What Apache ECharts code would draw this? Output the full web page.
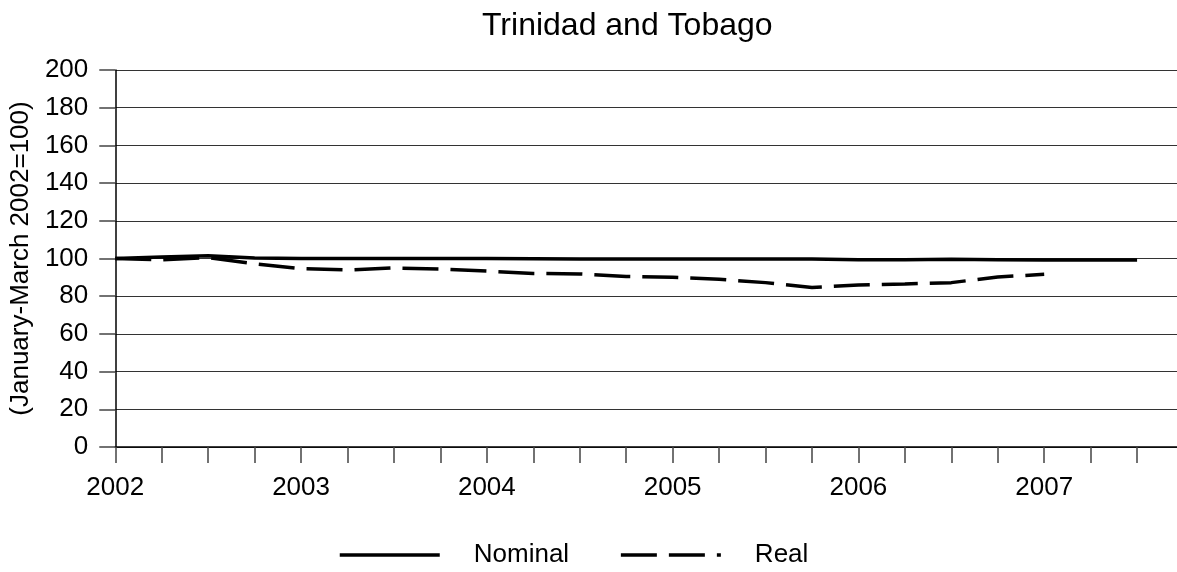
<!DOCTYPE html>
<html>
<head>
<meta charset="utf-8">
<script src="https://cdn.jsdelivr.net/npm/echarts@6/dist/echarts.min.js"></script>
<style>
html,body{margin:0;padding:0;background:#fff;}
#chart{width:1177px;height:572px;}
</style>
</head>
<body>
<div id="chart"></div>
<script>
// Quarterly index, January-March 2002 = 100
const quarters = ['2002Q1','2002Q2','2002Q3','2002Q4','2003Q1','2003Q2','2003Q3','2003Q4',
  '2004Q1','2004Q2','2004Q3','2004Q4','2005Q1','2005Q2','2005Q3','2005Q4',
  '2006Q1','2006Q2','2006Q3','2006Q4','2007Q1','2007Q2','2007Q3'];
const nominal = [100, 100.8, 101.5, 100.3, 100, 100, 100, 100,
  100, 99.9, 99.8, 99.8, 99.8, 99.8, 99.8, 99.7,
  99.4, 99.3, 99.6, 99.4, 99.2, 99.2, 99.2];
const real = [100, 99.3, 100.5, 97.2, 94.6, 93.9, 95, 94.4,
  93.3, 92.1, 91.8, 90.5, 90, 89, 87.2, 84.6,
  86, 86.5, 87.2, 90.2, 91.6];
const yTicks = [0, 20, 40, 60, 80, 100, 120, 140, 160, 180, 200];

const FONT = 'Liberation Sans';
const chart = echarts.init(document.getElementById('chart'), null, {renderer: 'canvas'});
const toPairs = arr => arr.map((v, i) => [i, v]);

chart.setOption({
  animation: false,
  backgroundColor: '#fff',
  title: {
    text: 'Trinidad and Tobago',
    left: 482,
    top: 10,
    padding: 0,
    textStyle: {fontFamily: FONT, fontSize: 32, fontWeight: 'normal', color: '#000'}
  },
  grid: {left: 113, right: 0, top: 70, bottom: 125},
  legend: {
    left: 338,
    top: 542,
    padding: 0,
    itemWidth: 100,
    itemHeight: 26,
    itemGap: 50,
    itemStyle: {opacity: 0},
    lineStyle: {width: 3.5},
    textStyle: {fontFamily: FONT, fontSize: 26, color: '#000', padding: [0, 0, 0, 29]},
    data: ['Nominal', 'Real']
  },
  xAxis: {
    type: 'value',
    min: 0,
    max: (1177 - 113) / ((1137 - 113) / (quarters.length - 1)),
    interval: 1,
    axisLine: {show: true, lineStyle: {color: '#000', width: 1.5}},
    axisTick: {show: true, length: 16, lineStyle: {color: '#444', width: 1.5}},
    axisLabel: {
      showMaxLabel: false,
      margin: 28,
      fontFamily: FONT, fontSize: 26, color: '#000',
      formatter: v => (Number.isInteger(v) && v % 4 === 0 && v < quarters.length) ? quarters[v].slice(0, 4) : ''
    },
    splitLine: {show: false}
  },
  yAxis: {
    type: 'value',
    min: yTicks[0],
    max: yTicks[yTicks.length - 1],
    interval: yTicks[1] - yTicks[0],
    name: '(January-March 2002=100)',
    nameLocation: 'middle',
    nameGap: 80,
    nameTextStyle: {fontFamily: FONT, fontSize: 26, color: '#000'},
    axisLine: {show: true, lineStyle: {color: '#000', width: 1.5}},
    axisTick: {show: true, length: 16, lineStyle: {color: '#444', width: 1.5}},
    axisLabel: {margin: 27, fontFamily: FONT, fontSize: 26, color: '#000'},
    splitLine: {show: true, lineStyle: {color: '#333', width: 1.2}}
  },
  series: [
    {
      name: 'Nominal',
      type: 'line',
      data: toPairs(nominal),
      symbol: 'none',
      lineStyle: {color: '#000', width: 3.5},
      itemStyle: {color: '#000'},
      z: 3
    },
    {
      name: 'Real',
      type: 'line',
      data: toPairs(real),
      symbol: 'none',
      lineStyle: {color: '#000', width: 3.5, type: [36, 12]},
      itemStyle: {color: '#000'},
      z: 2
    }
  ]
});
</script>
</body>
</html>
